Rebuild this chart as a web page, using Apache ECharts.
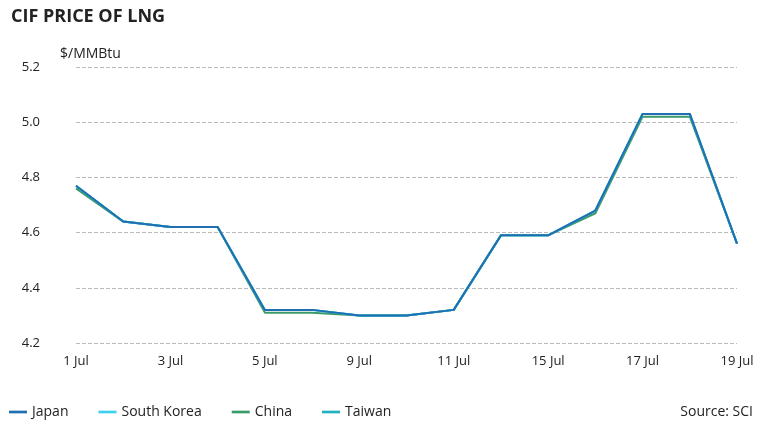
<!DOCTYPE html><html><head><meta charset="utf-8"><script src="https://cdn.jsdelivr.net/npm/echarts@6/dist/echarts.min.js"></script>
<style>body{margin:0}#c{width:770px;height:423px}</style></head><body><div id="c"></div><script>
const categories=['1 Jul','2 Jul','3 Jul','4 Jul','5 Jul','8 Jul','9 Jul','10 Jul','11 Jul','12 Jul','15 Jul','16 Jul','17 Jul','18 Jul','19 Jul'];
const japan=[4.77,4.64,4.62,4.62,4.32,4.32,4.30,4.30,4.32,4.59,4.59,4.68,5.03,5.03,4.56];
const southKorea=[4.77,4.64,4.62,4.62,4.32,4.32,4.30,4.30,4.32,4.59,4.59,4.68,5.03,5.03,4.56];
const china=[4.76,4.64,4.62,4.62,4.31,4.31,4.30,4.30,4.32,4.59,4.59,4.67,5.02,5.02,4.56];
const taiwan=[4.77,4.64,4.62,4.62,4.32,4.32,4.30,4.30,4.32,4.59,4.59,4.68,5.03,5.03,4.56];
const names=['Japan','South Korea','China','Taiwan'];
const colors=['#1f6fb2','#3fd0f0','#3a9a6a','#20b0c0'];
const data=[japan,southKorea,china,taiwan];
const ch=echarts.init(document.getElementById('c'));
const F='Open Sans';
ch.setOption({
 animation:false,
 textStyle:{fontFamily:F},
 title:[{text:'CIF PRICE OF LNG',left:6,top:3,textStyle:{fontSize:18,fontWeight:'bold',color:'#222',fontFamily:F}},
        {text:'Source: SCI',right:12,top:400,textStyle:{fontSize:14,fontWeight:'normal',color:'#222',fontFamily:F}}],
 legend:{left:4,top:400,icon:'path://M0,0H20V3H0Z',itemWidth:18,itemHeight:3,itemGap:30,textStyle:{fontSize:14,color:'#222'},data:names},
 grid:{left:76,right:33,top:67,bottom:80},
 xAxis:{type:'category',data:categories,boundaryGap:false,
  axisLine:{show:false},axisTick:{show:false},
  axisLabel:{interval:1,fontSize:13,color:'#222',margin:12}},
 yAxis:{type:'value',min:4.2,max:5.2,interval:0.2,name:'$/MMBtu',nameLocation:'end',nameGap:6,
  nameTextStyle:{fontSize:14,color:'#222',align:'left',padding:[0,0,0,-16]},
  axisLine:{show:false},axisTick:{show:false},
  axisLabel:{fontSize:13,color:'#222',formatter:v=>v.toFixed(1),margin:36},
  splitLine:{lineStyle:{type:'dashed',color:'#bbb'}}},
 series:names.map((n,i)=>({name:n,type:'line',data:data[i],symbol:'none',lineStyle:{width:2,color:colors[i]},itemStyle:{color:colors[i]},z:10-i}))
});
</script></body></html>
